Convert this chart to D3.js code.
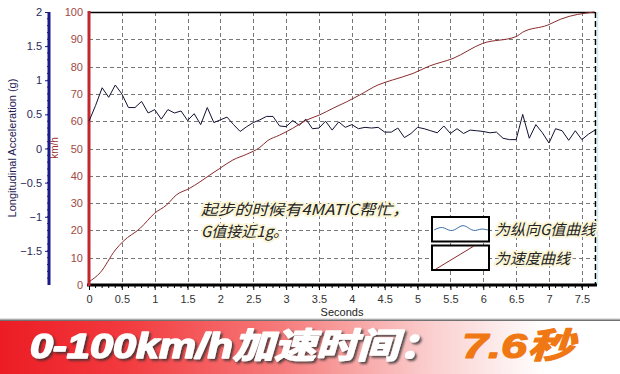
<!DOCTYPE html>
<html><head><meta charset="utf-8">
<script src="https://cdn.jsdelivr.net/npm/d3@7"></script>
<style>
html,body{margin:0;padding:0;background:#fff;}
svg{display:block;}
</style></head>
<body>
<svg id="c" width="620" height="374"></svg>
<script>
// ---- data ----
const gTimes = [0,0.1,0.2,0.3,0.4,0.5,0.6,0.7,0.8,0.9,1.0,1.1,1.2,1.3,1.4,1.5,1.6,1.7,1.8,1.9,
  2.0,2.1,2.2,2.3,2.4,2.5,2.6,2.7,2.8,2.9,3.0,3.1,3.2,3.3,3.4,3.5,3.6,3.7,3.8,3.9,
  4.0,4.1,4.2,4.3,4.4,4.5,4.6,4.7,4.8,4.9,5.0,5.1,5.2,5.3,5.4,5.5,5.6,5.7,5.8,5.9,
  6.0,6.1,6.2,6.3,6.4,6.5,6.6,6.7,6.8,6.9,7.0,7.1,7.2,7.3,7.4,7.5,7.6,7.7];
const gValues = [0.40,0.63,0.89,0.75,0.93,0.80,0.60,0.60,0.69,0.52,0.57,0.43,0.57,0.52,0.55,0.41,0.51,0.35,0.60,0.38,
  0.42,0.46,0.35,0.25,0.32,0.38,0.42,0.47,0.47,0.33,0.32,0.41,0.34,0.43,0.29,0.30,0.40,0.27,0.39,0.31,
  0.35,0.29,0.31,0.30,0.31,0.24,0.24,0.30,0.16,0.22,0.31,0.29,0.26,0.23,0.33,0.22,0.29,0.22,0.27,0.26,
  0.25,0.23,0.24,0.15,0.13,0.13,0.50,0.15,0.35,0.23,0.08,0.29,0.26,0.12,0.26,0.13,0.21,0.27];
const speedTimes = [0,0.17,0.4,0.52,0.78,1.0,1.18,1.33,1.53,1.69,1.84,1.99,2.19,2.40,2.60,2.72,2.90,3.10,3.31,3.51,
  3.71,3.92,4.12,4.40,4.62,4.93,5.18,5.54,5.99,6.5,6.6,6.98,7.18,7.69];
const speedValues = [1.2,4.5,12.8,16.0,20.8,26.3,29.3,33.0,35.4,37.8,40.3,42.7,45.8,47.9,50.4,52.9,54.9,57.4,60.4,62.3,
  64.7,67.1,69.6,73.3,75.1,77.5,80.2,83.0,88.5,91.0,92.6,95.2,97.4,100];
const xTicks = [0,0.5,1,1.5,2,2.5,3,3.5,4,4.5,5,5.5,6,6.5,7,7.5];
const speedTicks = [0,10,20,30,40,50,60,70,80,90,100];
const gTicks = [-1.5,-1,-0.5,0,0.5,1,1.5,2];
const legendWave = [0,-2,-3,-1,1,0,-3,-5,-3,0,1,-1,-1,0];
const legendLine = [[0,0],[1,1]];
const annotation = ["起步的时候有4MATIC帮忙，","G值接近1g。"];
const legendLabels = ["为纵向G值曲线","为速度曲线"];
const bannerText = "0-100km/h加速时间：";
const bannerValue = "7.6秒";

// ---- scales ----
const svg = d3.select("#c");
const x = d3.scaleLinear([0,7.7],[89,595]);
const yS = d3.scaleLinear([0,100],[285,12]);
const yG = d3.scaleLinear([-2,2],[285,12]);
const font = "'Liberation Sans', Arial, sans-serif";
const cjk = "'Noto Sans CJK SC', 'Liberation Sans', sans-serif";

// grid
const grid = svg.append("g").attr("stroke","#777").attr("stroke-width",1).attr("stroke-dasharray","4,3");
grid.selectAll("line.h").data(speedTicks.filter(d=>d>0&&d<100)).join("line")
  .attr("x1",x(0)).attr("x2",x(7.7)).attr("y1",d=>Math.round(yS(d))+0.5).attr("y2",d=>Math.round(yS(d))+0.5);
grid.selectAll("line.v").data(xTicks.filter(d=>d>0)).join("line")
  .attr("y1",yS(100)).attr("y2",yS(0)).attr("x1",d=>Math.round(x(d))+0.5).attr("x2",d=>Math.round(x(d))+0.5);

// top & right border
svg.append("line").attr("x1",x(0)).attr("x2",x(7.7)).attr("y1",12.5).attr("y2",12.5).attr("stroke","#000").attr("stroke-width",1.5);
svg.append("line").attr("x1",x(7.7)+0.5).attr("x2",x(7.7)+0.5).attr("y1",12).attr("y2",285).attr("stroke","#000").attr("stroke-width",1.5).attr("stroke-dasharray","6,3");
svg.append("line").attr("x1",x(7.7)+2.5).attr("x2",x(7.7)+2.5).attr("y1",12).attr("y2",285).attr("stroke","#cdeef3").attr("stroke-width",1.5);

// x axis
const xAxis = svg.append("g").attr("transform","translate(0,285)")
  .call(d3.axisBottom(x).tickValues(xTicks).tickSize(5).tickPadding(5).tickFormat(d3.format("~g")));
xAxis.select(".domain").remove();
xAxis.selectAll("text").attr("font-family",font).attr("font-size",11).attr("fill","#333");
xAxis.selectAll("line").attr("stroke","#000");
const minorX = d3.range(1,77).map(i=>i/10);
svg.append("g").selectAll("line").data(minorX).join("line")
  .attr("x1",d=>x(d)).attr("x2",d=>x(d)).attr("y1",285).attr("y2",288).attr("stroke","#000");
svg.append("line").attr("x1",87).attr("x2",597).attr("y1",285).attr("y2",285).attr("stroke","#000").attr("stroke-width",3);
svg.append("text").attr("x",342).attr("y",316).attr("text-anchor","middle").attr("font-family",font).attr("font-size",11).attr("fill","#222").text("Seconds");

// speed axis
const sAxis = svg.append("g").attr("transform","translate(89,0)")
  .call(d3.axisLeft(yS).tickValues(speedTicks).tickSize(0).tickPadding(6));
sAxis.select(".domain").remove();
sAxis.selectAll("text").attr("font-family",font).attr("font-size",11).attr("fill","#a04a44");
svg.append("line").attr("x1",89).attr("x2",89).attr("y1",11).attr("y2",286).attr("stroke","#c0282d").attr("stroke-width",3);
svg.append("text").attr("transform","translate(58,148) rotate(-90)").attr("text-anchor","middle")
  .attr("font-family",font).attr("font-size",10).attr("fill","#a03030").text("km/h");

// G axis
const gAxis = svg.append("g").attr("transform","translate(49,0)")
  .call(d3.axisLeft(yG).tickValues(gTicks).tickSize(4).tickPadding(3).tickFormat(d3.format("~g")));
gAxis.select(".domain").remove();
gAxis.selectAll("text").attr("font-family",font).attr("font-size",11).attr("fill","#2a2a5a");
gAxis.selectAll("line").attr("stroke","#1a1a80");
const minorG = d3.range(-19,20).map(i=>i/10);
svg.append("g").selectAll("line").data(minorG).join("line")
  .attr("x1",47).attr("x2",49).attr("y1",d=>yG(d)).attr("y2",d=>yG(d)).attr("stroke","#1a1a80");
svg.append("line").attr("x1",49).attr("x2",49).attr("y1",12).attr("y2",285).attr("stroke","#1a1a8c").attr("stroke-width",3);
svg.append("text").attr("transform","translate(16,148) rotate(-90)").attr("text-anchor","middle")
  .attr("font-family",font).attr("font-size",11).attr("fill","#1e2050").text("Longitudinal Acceleration (g)");

// series
const gData = gTimes.map((t,i)=>[t,gValues[i]]);
svg.append("path").datum(gData).attr("fill","none").attr("stroke","#111133").attr("stroke-width",1)
  .attr("d",d3.line().x(d=>x(d[0])).y(d=>yG(d[1])));
const sData = speedTimes.map((t,i)=>[t,speedValues[i]]);
svg.append("path").datum(sData).attr("fill","none").attr("stroke","#8b2a2a").attr("stroke-width",1)
  .attr("d",d3.line().x(d=>x(d[0])).y(d=>yS(d[1])).curve(d3.curveMonotoneX));

// annotation
const ann = svg.append("g").attr("font-family",cjk).attr("font-size",15).attr("font-style","italic").attr("fill","#222")
  .attr("stroke","#fbf6d8").attr("stroke-width",4).attr("stroke-linejoin","round").attr("paint-order","stroke");
ann.append("text").attr("x",201).attr("y",215).attr("textLength",208).attr("lengthAdjust","spacingAndGlyphs").text(annotation[0]);
ann.append("text").attr("x",201).attr("y",237).text(annotation[1]);

// legend
const lg = svg.append("g");
[0,1].forEach(i=>{
  lg.append("rect").attr("x",432).attr("y",217+i*28.5).attr("width",57).attr("height",24.5)
    .attr("fill","#fff").attr("stroke","#000").attr("stroke-width",2);
  lg.append("text").attr("x",495).attr("y",235+i*29).attr("font-family",cjk).attr("font-size",15)
    .attr("font-style","italic").attr("fill","#222").attr("stroke","#fbf6d8").attr("stroke-width",4)
    .attr("stroke-linejoin","round").attr("paint-order","stroke").text(legendLabels[i]);
});
const wx = d3.scaleLinear([0,legendWave.length-1],[434,488]);
lg.append("path").datum(legendWave).attr("fill","none").attr("stroke","#3a6ea5").attr("stroke-width",1)
  .attr("d",d3.line().x((d,i)=>wx(i)).y(d=>230+d).curve(d3.curveBasis));
const lx = d3.scaleLinear([0,1],[436,474]), ly = d3.scaleLinear([0,1],[269,246]);
lg.append("path").datum(legendLine).attr("fill","none").attr("stroke","#8b2a2a").attr("stroke-width",1)
  .attr("d",d3.line().x(d=>lx(d[0])).y(d=>ly(d[1])));

// banner
const defs = svg.append("defs");
const gr = defs.append("linearGradient").attr("id","bg").attr("x1","0").attr("x2","1").attr("y1","0").attr("y2","0");
[[0,"#ec1c24"],[0.2,"#f23a3e"],[0.45,"#f67a7a"],[0.7,"#fbd0d0"],[0.88,"#ffffff"],[1,"#ffffff"]].forEach(s=>gr.append("stop").attr("offset",s[0]).attr("stop-color",s[1]));
const sh = defs.append("linearGradient").attr("id","sh").attr("x1","0").attr("x2","0").attr("y1","0").attr("y2","1");
[[0,"#ffffff"],[1,"#555555"]].forEach(s=>sh.append("stop").attr("offset",s[0]).attr("stop-color",s[1]));
const f = defs.append("filter").attr("id","ds").attr("x","-5%").attr("y","-20%").attr("width","110%").attr("height","140%");
f.append("feDropShadow").attr("dx",2).attr("dy",2).attr("stdDeviation",1.2).attr("flood-color","#333").attr("flood-opacity",0.8);
svg.append("rect").attr("x",0).attr("y",318).attr("width",620).attr("height",3).attr("fill","url(#sh)");
svg.append("rect").attr("x",0).attr("y",321).attr("width",620).attr("height",53).attr("fill","url(#bg)");
svg.append("text").attr("x",30).attr("y",358).attr("font-family","'Liberation Sans', 'Noto Sans CJK SC', sans-serif")
  .attr("font-weight","bold").attr("font-style","italic").attr("font-size",35).attr("fill","#fff")
  .attr("stroke","#fff").attr("stroke-width",1.6).attr("stroke-linejoin","round")
  .attr("textLength",410).attr("lengthAdjust","spacingAndGlyphs").attr("filter","url(#ds)").text(bannerText);
svg.append("text").attr("x",462).attr("y",358).attr("font-family","'Liberation Sans', 'Noto Sans CJK SC', sans-serif")
  .attr("font-weight","bold").attr("font-style","italic").attr("font-size",35).attr("fill","#f07814")
  .attr("stroke","#f07814").attr("stroke-width",1.2).attr("stroke-linejoin","round")
  .attr("textLength",112).attr("lengthAdjust","spacingAndGlyphs").text(bannerValue);
</script>
</body></html>
